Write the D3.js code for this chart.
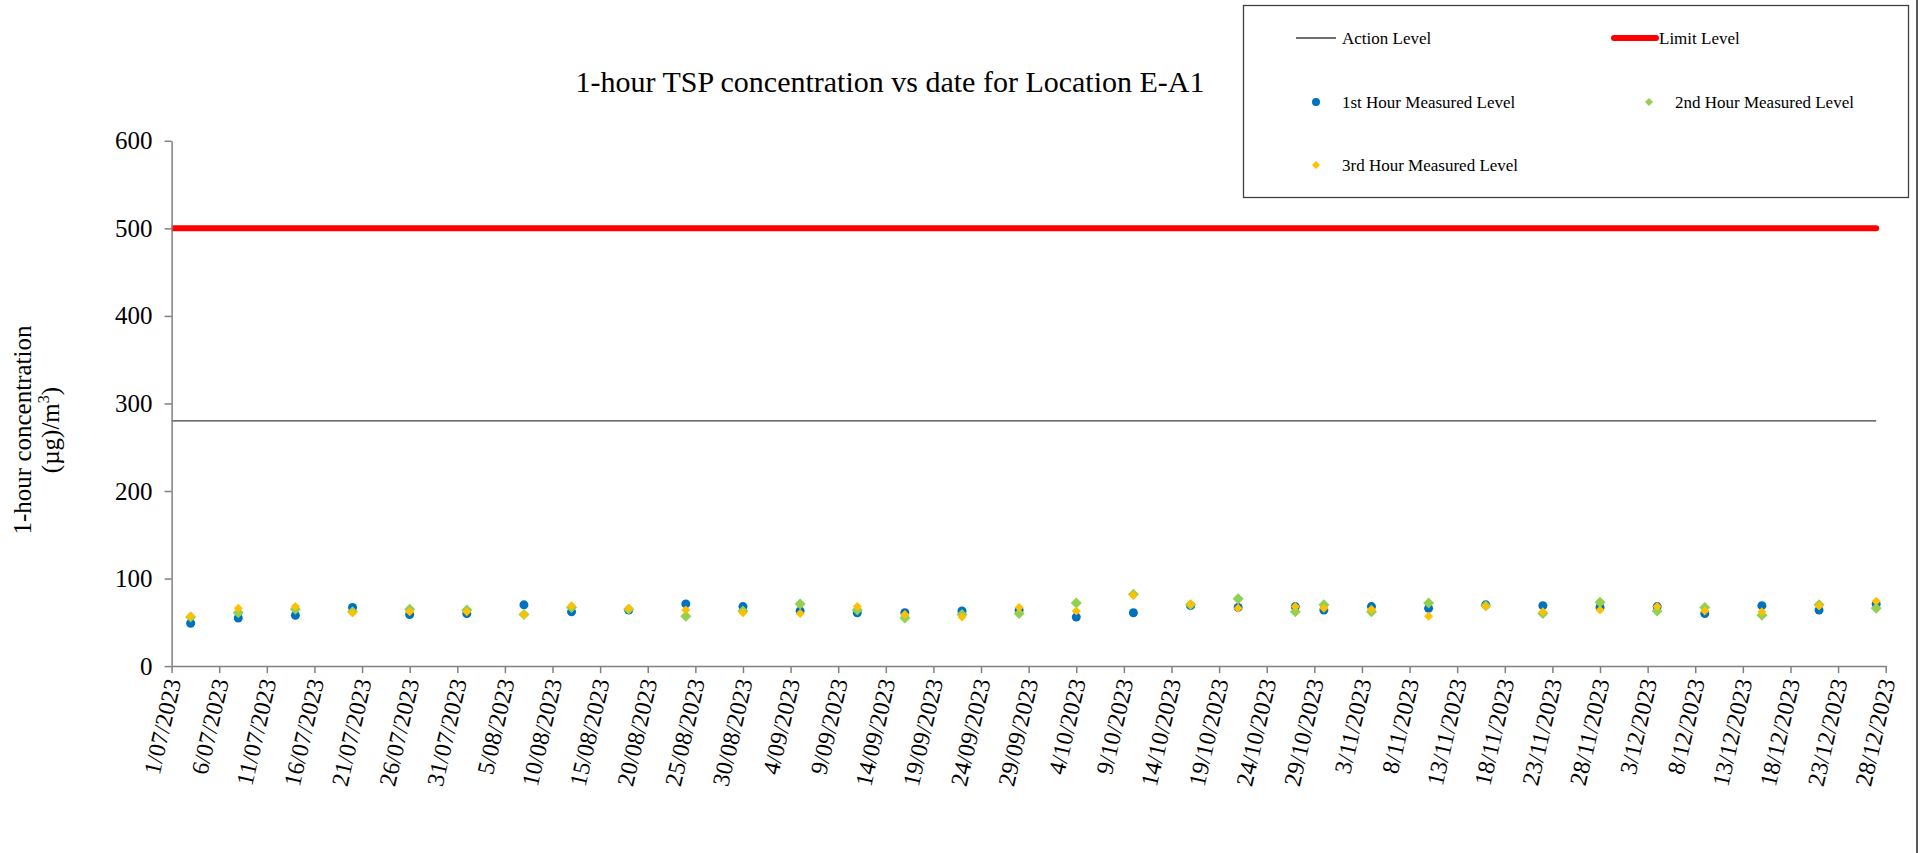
<!DOCTYPE html>
<html lang="en">

<head>
  <meta charset="UTF-8">
  <title>1-hour TSP concentration vs date for Location E-A1</title>
  <style>
    body { margin: 0; background: #fff; }
    svg { display: block; font-family: "Liberation Serif", "Times New Roman", serif; }
  </style>
</head>

<body>
  <script src="https://cdnjs.cloudflare.com/ajax/libs/d3/7.8.5/d3.min.js"></script>
  <script>

    // sampling dates
    let dates = ['3/07/2023', '8/07/2023', '14/07/2023', '20/07/2023', '26/07/2023', '1/08/2023',
      '7/08/2023', '12/08/2023', '18/08/2023', '24/08/2023', '30/08/2023', '5/09/2023',
      '11/09/2023', '16/09/2023', '22/09/2023', '28/09/2023', '4/10/2023', '10/10/2023',
      '16/10/2023', '21/10/2023', '27/10/2023', '30/10/2023', '4/11/2023', '10/11/2023',
      '16/11/2023', '22/11/2023', '28/11/2023', '4/12/2023', '9/12/2023', '15/12/2023',
      '21/12/2023', '27/12/2023']

    let hour1 = [49, 55, 58, 67, 59, 60, 70, 62, 64, 71, 68, 63, 61, 61, 63, 64, 56, 61,
      69, 67, 68, 64, 68, 66, 70, 69, 67, 68, 60, 69, 64, 71]
    let hour2 = [56, 61, 65, 62, 65, 64, 59, 67, 65, 57, 63, 71, 64, 55, 59, 60, 72, 82,
      70, 77, 62, 70, 62, 72, 69, 60, 73, 63, 67, 58, 70, 66]
    let hour3 = [57, 66, 68, 61, 62, 62, 59, 69, 66, 64, 61, 60, 68, 59, 56, 67, 63, 81,
      71, 66, 68, 66, 65, 57, 68, 62, 64, 68, 63, 62, 69, 74]

    let actionLevel = 280
    let limitLevel = 500

    let xTickLabels = ['1/07/2023', '6/07/2023', '11/07/2023', '16/07/2023', '21/07/2023',
      '26/07/2023', '31/07/2023', '5/08/2023', '10/08/2023', '15/08/2023', '20/08/2023',
      '25/08/2023', '30/08/2023', '4/09/2023', '9/09/2023', '14/09/2023', '19/09/2023',
      '24/09/2023', '29/09/2023', '4/10/2023', '9/10/2023', '14/10/2023', '19/10/2023',
      '24/10/2023', '29/10/2023', '3/11/2023', '8/11/2023', '13/11/2023', '18/11/2023',
      '23/11/2023', '28/11/2023', '3/12/2023', '8/12/2023', '13/12/2023', '18/12/2023',
      '23/12/2023', '28/12/2023']
    let yTicks = [0, 100, 200, 300, 400, 500, 600]

    let width = 1920
    let height = 853
    let plot = { left: 171.6, right: 1885.7, top: 140.8, bottom: 666.1 }

    let parse = d3.utcParse('%d/%m/%Y')
    let tickDates = xTickLabels.map(parse)
    let pointDates = dates.map(parse)

    let svg = d3.select('body')
      .append('svg')
      .attr('width', width)
      .attr('height', height)

    let xScale = d3.scaleUtc()
      .domain([tickDates[0], tickDates[tickDates.length - 1]])
      .range([plot.left, plot.right])

    let yScale = d3.scaleLinear()
      .domain([0, 600])
      .range([plot.bottom, plot.top])

    // right border of chart area
    svg.append('line')
      .attr('x1', 1917).attr('x2', 1917)
      .attr('y1', 0).attr('y2', height)
      .attr('stroke', '#595959')
      .attr('stroke-width', 2)

    // title
    svg.append('text')
      .attr('x', 890)
      .attr('y', 92)
      .attr('text-anchor', 'middle')
      .attr('font-size', 30)
      .attr('fill', '#000')
      .text('1-hour TSP concentration vs date for Location E-A1')

    // y axis title
    let yTitle = svg.append('text')
      .attr('transform', 'translate(0,430) rotate(-90)')
      .attr('text-anchor', 'middle')
      .attr('font-size', 25)
      .attr('fill', '#000')
    yTitle.append('tspan').attr('x', 0).attr('y', 31).text('1-hour concentration')
    let l2 = yTitle.append('tspan').attr('x', 0).attr('y', 59)
    l2.append('tspan').text('(µg)/m')
    l2.append('tspan').attr('font-size', 16).attr('dy', -10).text('3')
    l2.append('tspan').attr('dy', 10).text(')')

    svg.append('clipPath').attr('id', 'plotclip')
      .append('rect')
      .attr('x', plot.left).attr('y', 0)
      .attr('width', plot.right - plot.left + 20).attr('height', plot.bottom)

    let lastDate = pointDates[pointDates.length - 1]

    // action level
    svg.append('line')
      .attr('x1', xScale(tickDates[0])).attr('x2', xScale(lastDate))
      .attr('y1', yScale(actionLevel)).attr('y2', yScale(actionLevel))
      .attr('stroke', '#404040')
      .attr('stroke-width', 1.3)

    // limit level
    svg.append('line')
      .attr('clip-path', 'url(#plotclip)')
      .attr('x1', xScale(tickDates[0])).attr('x2', xScale(lastDate))
      .attr('y1', yScale(limitLevel)).attr('y2', yScale(limitLevel))
      .attr('stroke', '#ff0000')
      .attr('stroke-width', 6)
      .attr('stroke-linecap', 'round')

    // axes
    let xAxis = d3.axisBottom(xScale)
      .tickValues(tickDates)
      .tickFormat(function (d, i) { return xTickLabels[i] })
      .tickSize(7)
      .tickSizeOuter(0)

    let yAxis = d3.axisLeft(yScale)
      .tickValues(yTicks)
      .tickSize(7)
      .tickSizeOuter(0)
      .tickPadding(12)

    let gx = svg.append('g')
      .attr('transform', `translate(0,${plot.bottom})`)
      .call(xAxis)
    gx.selectAll('text')
      .attr('x', 0)
      .attr('y', 0)
      .attr('dy', '0.35em')
      .attr('text-anchor', 'end')
      .attr('transform', 'translate(1,13) rotate(-77)')
      .attr('font-size', 24)
      .attr('font-family', '"Liberation Serif", serif')
      .attr('fill', '#000')

    let gy = svg.append('g')
      .attr('transform', `translate(${plot.left},0)`)
      .call(yAxis)
    gy.selectAll('text')
      .attr('font-size', 25)
      .attr('font-family', '"Liberation Serif", serif')
      .attr('fill', '#000')

    svg.selectAll('.domain, .tick line')
      .attr('stroke', '#808080')
      .attr('stroke-width', 1.5)

    // markers
    let diamond = function (s) {
      return `M0,${-s}L${s},0L0,${s}L${-s},0Z`
    }

    svg.selectAll('.h1')
      .data(hour1)
      .enter()
      .append('circle')
      .attr('class', 'h1')
      .attr('cx', function (d, i) { return xScale(pointDates[i]) })
      .attr('cy', function (d) { return yScale(d) })
      .attr('r', 4.5)
      .attr('fill', '#0070c0')

    svg.selectAll('.h2')
      .data(hour2)
      .enter()
      .append('path')
      .attr('class', 'h2')
      .attr('d', diamond(5.5))
      .attr('transform', function (d, i) { return `translate(${xScale(pointDates[i])},${yScale(d)})` })
      .attr('fill', '#92d050')

    svg.selectAll('.h3')
      .data(hour3)
      .enter()
      .append('path')
      .attr('class', 'h3')
      .attr('d', diamond(4.5))
      .attr('transform', function (d, i) { return `translate(${xScale(pointDates[i])},${yScale(d)})` })
      .attr('fill', '#ffc000')

    // legend
    let legend = svg.append('g')
    legend.append('rect')
      .attr('x', 1243.5).attr('y', 5.5)
      .attr('width', 665).attr('height', 192)
      .attr('fill', '#fff')
      .attr('stroke', '#404040')
      .attr('stroke-width', 1.3)

    legend.append('line')
      .attr('x1', 1296).attr('x2', 1336).attr('y1', 38).attr('y2', 38)
      .attr('stroke', '#404040').attr('stroke-width', 1.3)
    legend.append('line')
      .attr('x1', 1614).attr('x2', 1656).attr('y1', 38).attr('y2', 38)
      .attr('stroke', '#ff0000').attr('stroke-width', 6).attr('stroke-linecap', 'round')
    legend.append('circle')
      .attr('cx', 1316).attr('cy', 102).attr('r', 4)
      .attr('fill', '#0070c0')
    legend.append('path')
      .attr('d', diamond(4))
      .attr('transform', 'translate(1649,102)')
      .attr('fill', '#92d050')
    legend.append('path')
      .attr('d', diamond(4))
      .attr('transform', 'translate(1316,165)')
      .attr('fill', '#ffc000')

    let legendText = [
      { t: 'Action Level', x: 1342, y: 38 },
      { t: 'Limit Level', x: 1659, y: 38 },
      { t: '1st Hour Measured Level', x: 1342, y: 102 },
      { t: '2nd Hour Measured Level', x: 1675, y: 102 },
      { t: '3rd Hour Measured Level', x: 1342, y: 165 }
    ]
    legend.selectAll('.lt')
      .data(legendText)
      .enter()
      .append('text')
      .attr('class', 'lt')
      .attr('x', function (d) { return d.x })
      .attr('y', function (d) { return d.y })
      .attr('dy', '0.33em')
      .attr('font-size', 17)
      .attr('fill', '#000')
      .text(function (d) { return d.t })
  </script>
</body>

</html>
